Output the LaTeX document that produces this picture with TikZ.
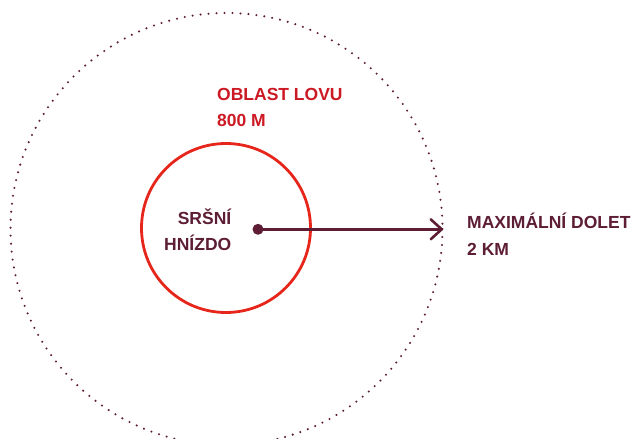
\documentclass[tikz,border=0pt]{standalone}
\usepackage{fontspec}
\setmainfont{Liberation Sans}
\usetikzlibrary{arrows.meta}
\definecolor{maroon}{HTML}{5C1D35}
\definecolor{ringred}{HTML}{E6251B}
\definecolor{textred}{HTML}{CC1A24}
\tikzset{
  lbl/.style={inner sep=0pt, font=\fontsize{17.5pt}{26pt}\selectfont\bfseries},
  redlbl/.style={lbl, text=textred},
  darklbl/.style={lbl, text=maroon},
}
\begin{document}
\begin{tikzpicture}[x=1pt,y=-1pt]
\useasboundingbox (0,0) rectangle (635,439);
% outer dotted circle (max range)
\draw[maroon, line width=2.3pt, line cap=round, dash pattern=on 0pt off 8pt] (226.5,229) circle[radius=216];
% inner red circle (hunting area)
\draw[ringred, line width=2.8pt] (226,228) circle[radius=84.5];
% nest
\fill[maroon] (258,229.3) circle[radius=5.5];
\coordinate (nest) at (258,229.3);
\coordinate (edge) at (443,229.3);
\draw[maroon, line width=2.6pt, -{Straight Barb[length=11pt,width=20pt,line width=2.6pt,round]}] (nest) -- (edge);
% labels
\node[redlbl, anchor=base west] (o1) at (217,100) {OBLAST LOVU};
\node[redlbl, anchor=base west] (o2) at (217,126) {800 M};
\node[darklbl, anchor=base east] (n1) at (231.5,224.3) {SRŠNÍ};
\node[darklbl, anchor=base east] (n2) at (231.5,250.7) {HNÍZDO};
\node[darklbl, anchor=base west] (m1) at (467,228.3) {MAXIMÁLNÍ DOLET};
\node[darklbl, anchor=base west] (m2) at (467,255) {2 KM};
\end{tikzpicture}
\end{document}
